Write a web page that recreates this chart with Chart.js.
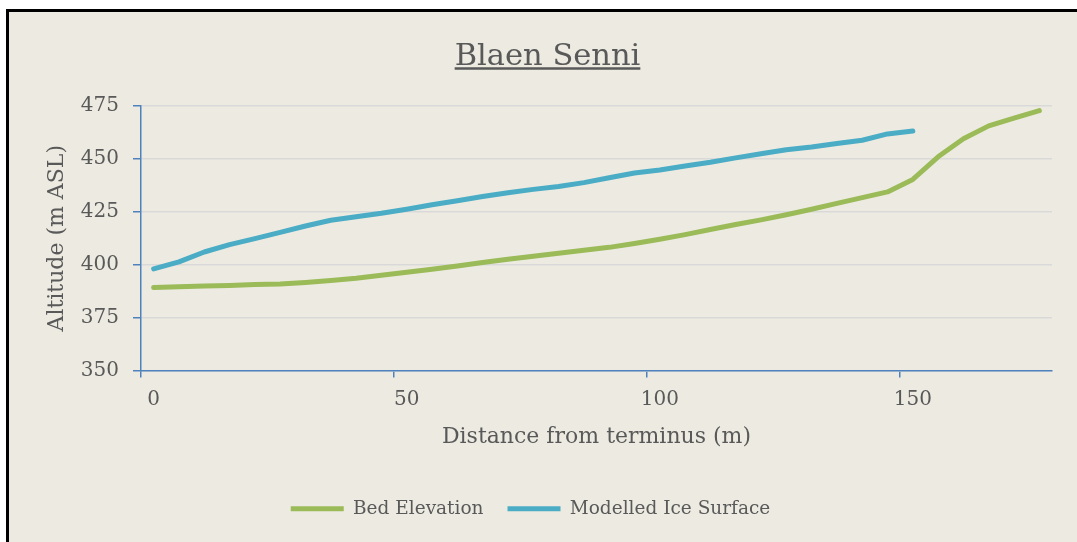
<!DOCTYPE html>
<html>
<head>
<meta charset="utf-8">
<script src="https://cdn.jsdelivr.net/npm/chart.js@4"></script>
<style>
  body { margin: 0; background: #ffffff; }
  #frame {
    position: absolute; left: 6px; top: 9px; right: 0; bottom: 0;
    border-left: 3px solid #000; border-top: 3px solid #000;
    background: #EDEBE1;
  }
  #wrap { position: absolute; left: 0; top: 0; width: 1068px; height: 530px; }
</style>
</head>
<body>
<div id="frame"><div id="wrap"><canvas id="profileChart"></canvas></div></div>
<script>
// distance from terminus (m), one category every 5 m
var distances = [0, 5, 10, 15, 20, 25, 30, 35, 40, 45, 50, 55, 60, 65, 70, 75, 80, 85,
                 90, 95, 100, 105, 110, 115, 120, 125, 130, 135, 140, 145, 150, 155, 160, 165, 170, 175];

// Bed elevation (m ASL)
var bedElevation = [389.2, 389.6, 389.9, 390.2, 390.6, 390.9, 391.6, 392.5, 393.6, 395.0,
                    396.4, 397.8, 399.4, 401.0, 402.6, 404.0, 405.4, 406.8, 408.2, 410.0,
                    412.0, 414.2, 416.6, 419.0, 421.2, 423.6, 426.2, 429.0, 431.7, 434.4,
                    440.3, 451.0, 459.5, 465.6, 469.3, 472.8];

// Modelled ice surface (m ASL), stops at 150 m
var iceSurface = [398.0, 401.3, 406.0, 409.5, 412.3, 415.3, 418.3, 421.0, 422.7, 424.3,
                  426.2, 428.3, 430.2, 432.2, 434.0, 435.6, 437.0, 438.8, 441.1, 443.3,
                  444.8, 446.6, 448.4, 450.5, 452.4, 454.3, 455.6, 457.3, 458.8, 461.8,
                  463.2];

var chartTitle = 'Blaen Senni';

var axisBlue = '#4F81BD';
var textGrey = '#595959';
var serif = "'DejaVu Serif', serif";

// titre souligné, dessiné à la main (le titre de Chart.js ne sait pas souligner)
var underlinedTitle = {
    id: 'underlinedTitle',
    afterDraw: function(chart) {
        var ctx = chart.ctx;
        var cx = chart.width / 2 + 4.5;
        var baseline = 53;
        ctx.save();
        ctx.font = '30.5px ' + serif;
        ctx.fillStyle = textGrey;
        ctx.textAlign = 'center';
        ctx.textBaseline = 'alphabetic';
        ctx.fillText(chartTitle, cx, baseline);
        var w = ctx.measureText(chartTitle).width;
        ctx.strokeStyle = textGrey;
        ctx.lineWidth = 2.5;
        ctx.beginPath();
        ctx.moveTo(cx - w / 2, baseline + 3.5);
        ctx.lineTo(cx + w / 2, baseline + 3.5);
        ctx.stroke();
        ctx.restore();
    }
};

var ctx = document.getElementById('profileChart').getContext('2d');
var profileChart = new Chart(ctx, {
    type: 'line',
    data: {
        labels: distances,
        datasets: [
            {
                label: 'Bed Elevation',
                data: bedElevation,
                borderColor: '#9BBB59',
                backgroundColor: '#9BBB59',
                borderWidth: 5,
                borderCapStyle: 'round',
                borderJoinStyle: 'round',
                pointRadius: 0,
                tension: 0
            },
            {
                label: 'Modelled Ice Surface',
                data: iceSurface,
                borderColor: '#4BACC6',
                backgroundColor: '#4BACC6',
                borderWidth: 5,
                borderCapStyle: 'round',
                borderJoinStyle: 'round',
                pointRadius: 0,
                tension: 0
            }
        ]
    },
    plugins: [underlinedTitle],
    options: {
        responsive: true,
        maintainAspectRatio: false,
        animation: false,
        layout: { padding: { left: 0, right: 25, top: 94, bottom: 14 } },
        plugins: {
            title: { display: false },
            legend: {
                position: 'bottom',
                labels: {
                    color: textGrey,
                    font: { family: serif, size: 18.5 },
                    usePointStyle: true,
                    pointStyle: 'line',
                    pointStyleWidth: 53,
                    padding: 24
                }
            },
            tooltip: { enabled: false }
        },
        scales: {
            x: {
                type: 'category',
                offset: true,
                afterFit: function(scale) { scale.height = 105; },
                border: { color: axisBlue, width: 1.5 },
                grid: {
                    offset: true,
                    drawOnChartArea: false,
                    tickLength: 7,
                    lineWidth: 1.5,
                    tickColor: function(c) { return (c.index % 10 === 0) ? axisBlue : 'rgba(0,0,0,0)'; }
                },
                ticks: {
                    autoSkip: false,
                    maxRotation: 0,
                    padding: 10,
                    color: textGrey,
                    font: { family: serif, size: 20 },
                    callback: function(value, index) {
                        return index % 10 === 0 ? this.getLabelForValue(value) : '';
                    }
                },
                title: {
                    display: true,
                    text: 'Distance from terminus (m)',
                    color: textGrey,
                    font: { family: serif, size: 22 },
                    padding: { top: 8, bottom: 25 }
                }
            },
            y: {
                min: 350,
                max: 475,
                afterFit: function(scale) { scale.width = 132; },
                border: { color: axisBlue, width: 1.5 },
                grid: {
                    color: '#D9D9D9',
                    lineWidth: 1.5,
                    tickColor: axisBlue,
                    tickLength: 8
                },
                ticks: {
                    stepSize: 25,
                    padding: 14,
                    color: textGrey,
                    font: { family: serif, size: 20 }
                },
                title: {
                    display: true,
                    text: 'Altitude (m ASL)',
                    color: textGrey,
                    font: { family: serif, size: 22 },
                    padding: { top: 35, bottom: 0 }
                }
            }
        }
    }
});
</script>
</body>
</html>
